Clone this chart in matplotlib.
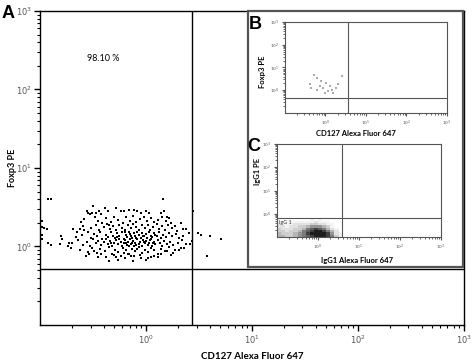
import numpy as np
import matplotlib
matplotlib.use("Agg")
import matplotlib.pyplot as plt
from matplotlib.patches import Rectangle

plt.rcParams['font.family'] = ['Lato', 'DejaVu Sans']

# Panel A: Foxp3 vs CD127 events (log10 decades)
a_cd127_log = [
    -0.92, -0.90, -0.98, -0.98, -0.98, -0.98, -0.96, -0.93, -0.92, -0.90,
    -0.80, -0.79, -0.81, -0.74, -0.71, -0.73, -0.69, -0.65, -0.62, -0.61,
    -0.59, -0.58, -0.56, -0.55, -0.53, -0.50, -0.51, -0.47, -0.44, -0.42,
    -0.39, -0.36, -0.28, -0.24, -0.21, -0.16, -0.11, -0.08, -0.05, 0.00,
    0.03, 0.16, 0.14, 0.17, 0.20, 0.24, 0.27, 0.33, 0.35, 0.38,
    0.41, 0.44, 0.49, 0.52, 0.60, 0.71, 0.58, 0.43, 0.42,
    -0.57, -0.54, -0.49, -0.42, -0.35, -0.28, -0.24, -0.17, -0.11, -0.05,
    0.00, 0.02, 0.08, 0.14, 0.20, 0.27, 0.33,
    -0.45, -0.38, -0.33, -0.30, -0.26, -0.22, -0.19, -0.15, -0.12, -0.09,
    -0.06, -0.02, 0.01, 0.05, 0.08, 0.11, 0.15, 0.19, -0.48, -0.41, 0.22,
    -0.52, -0.47, -0.44, -0.40, -0.37, -0.34, -0.31, -0.28, -0.25, -0.23,
    -0.20, -0.17, -0.14, -0.12, -0.09, -0.07, -0.04, -0.01, 0.02, 0.04,
    0.07, 0.10, 0.12, 0.15, 0.18, 0.21, 0.25, 0.29, -0.58, -0.35,
    -0.66, -0.60, -0.55, -0.52, -0.49, -0.46, -0.43, -0.41, -0.38, -0.36,
    -0.33, -0.31, -0.29, -0.27, -0.25, -0.23, -0.21, -0.19, -0.18, -0.16,
    -0.14, -0.13, -0.11, -0.10, -0.08, -0.07, -0.05, -0.04, -0.02, 0.00,
    0.01, 0.03, 0.05, 0.06, 0.08, 0.10, 0.12, 0.14, 0.16, 0.19,
    0.22, 0.25, 0.28, 0.31, 0.35, -0.27, -0.15, -0.03, 0.09, -0.20, -0.09,
    -0.70, -0.64, -0.59, -0.56, -0.53, -0.50, -0.47, -0.45, -0.42, -0.40,
    -0.38, -0.36, -0.34, -0.32, -0.30, -0.28, -0.26, -0.24, -0.23, -0.21,
    -0.20, -0.18, -0.17, -0.15, -0.14, -0.12, -0.11, -0.10, -0.08, -0.07,
    -0.06, -0.04, -0.03, -0.01, 0.00, 0.02, 0.03, 0.05, 0.06, 0.08,
    0.09, 0.11, 0.13, 0.15, 0.17, 0.20, 0.23, 0.26, 0.30, 0.34,
    0.38, -0.25, -0.13, -0.02, 0.07, -0.19, -0.09, 0.04, -0.33, -0.16,
    -0.62, -0.55, -0.51, -0.46, -0.43, -0.39, -0.35, -0.32, -0.29, -0.26,
    -0.22, -0.19, -0.16, -0.13, -0.10, -0.07, -0.04, -0.01, 0.02, 0.05,
    0.08, 0.11, 0.14, 0.18, 0.22, 0.26, 0.31, 0.36, -0.21, -0.08,
    -0.45, -0.30, -0.20, -0.14, -0.06, 0.05, 0.11, 0.24, -0.38, -0.12, -0.26,
]
a_foxp3_log = [
    0.60, 0.60, 0.32, 0.25, 0.15, 0.10, 0.24, 0.22, 0.05, 0.02,
    0.13, 0.09, 0.03, 0.01, -0.02, 0.05, 0.22, 0.18, 0.22, 0.31,
    0.26, 0.35, 0.45, 0.43, 0.41, 0.51, 0.43, 0.43, 0.45, 0.41,
    0.49, 0.45, 0.49, 0.45, 0.45, 0.47, 0.47, 0.45, 0.43, 0.45,
    0.43, 0.60, 0.43, 0.45, 0.37, 0.30, 0.26, 0.30, 0.22, 0.22,
    0.17, 0.45, 0.17, 0.15, 0.13, 0.09, -0.12, 0.07, 0.03,
    -0.12, -0.10, -0.06, -0.10, -0.19, -0.14, -0.12, -0.10, -0.12, -0.15,
    -0.17, -0.15, -0.12, -0.10, -0.06, -0.04, -0.02,
    0.33, 0.36, 0.31, 0.38, 0.34, 0.30, 0.37, 0.33, 0.39, 0.31,
    0.35, 0.37, 0.32, 0.36, 0.31, 0.34, 0.38, 0.33, 0.37, 0.30, 0.36,
    0.24, 0.27, 0.21, 0.25, 0.29, 0.22, 0.26, 0.21, 0.28, 0.24,
    0.21, 0.27, 0.23, 0.29, 0.25, 0.21, 0.27, 0.23, 0.28, 0.21,
    0.25, 0.29, 0.22, 0.26, 0.21, 0.27, 0.23, 0.20, 0.21, 0.28,
    0.12, 0.15, 0.18, 0.11, 0.16, 0.13, 0.19, 0.10, 0.15, 0.12,
    0.18, 0.14, 0.11, 0.17, 0.13, 0.19, 0.10, 0.15, 0.12, 0.18,
    0.14, 0.11, 0.17, 0.13, 0.19, 0.15, 0.11, 0.17, 0.13, 0.16,
    0.11, 0.19, 0.14, 0.12, 0.17, 0.13, 0.18, 0.11, 0.15, 0.12,
    0.17, 0.13, 0.16, 0.11, 0.14, 0.12, 0.16, 0.14, 0.15, 0.18, 0.11,
    0.04, 0.08, 0.02, 0.06, 0.01, 0.09, 0.04, 0.07, 0.02, 0.06,
    0.09, 0.03, 0.07, 0.01, 0.05, 0.08, 0.03, 0.06, 0.00, 0.04,
    0.08, 0.02, 0.06, 0.09, 0.03, 0.07, 0.01, 0.05, 0.09, 0.03,
    0.06, 0.01, 0.08, 0.04, 0.07, 0.02, 0.05, 0.09, 0.01, 0.06,
    0.03, 0.08, 0.04, 0.01, 0.07, 0.03, 0.06, 0.02, 0.05, 0.08,
    0.03, 0.09, 0.05, 0.06, 0.04, 0.05, 0.02, 0.08, 0.04, 0.00,
    -0.04, -0.07, -0.02, -0.08, -0.03, -0.06, -0.01, -0.09, -0.04, -0.07,
    -0.02, -0.05, -0.09, -0.03, -0.06, -0.01, -0.08, -0.04, -0.07, -0.02,
    -0.05, -0.09, -0.03, -0.06, -0.01, -0.08, -0.04, -0.02, -0.08, -0.03,
    -0.13, -0.11, -0.15, -0.12, -0.11, -0.14, -0.13, -0.11, -0.14, -0.19, -0.17,
]
a_gate_cd127 = 2.7
a_gate_foxp3 = 0.52
a_percent = "98.10 %"

# Panel B: few events
b_cd127_log = [-0.28, 0.40, -0.10, 0.02, -0.35, -0.20, -0.06, 0.05, 0.15, 0.25,
               0.11, 0.19, -0.02, -0.14, 0.32, -0.39, -0.22]
b_foxp3_log = [0.68, 0.62, 0.41, 0.33, 0.08, -0.01, 0.08, -0.05, 0.03, 0.08,
               0.18, -0.12, -0.12, 0.18, 0.26, 0.29, 0.56]
b_gate_cd127 = 3.5
b_gate_foxp3 = 0.48

# Panel C: IgG1 isotype, event density per 0.1-decade cell
c_x_edges_log = np.arange(-1.0, 0.61, 0.1)
c_y_edges_log = np.arange(-1.0, -0.19, 0.1)
c_density = [
    [4, 4, 3, 3, 4, 5, 6, 7, 8, 9, 9, 9, 8, 6, 3, 1],
    [4, 3, 3, 3, 4, 5, 6, 8, 9, 9, 9, 9, 8, 5, 2, 1],
    [3, 3, 2, 3, 3, 4, 6, 7, 8, 9, 9, 8, 6, 4, 2, 0],
    [3, 2, 2, 2, 3, 3, 4, 6, 7, 8, 7, 6, 4, 2, 1, 0],
    [2, 2, 1, 2, 2, 3, 3, 4, 5, 5, 5, 4, 3, 1, 0, 0],
    [2, 1, 1, 1, 2, 2, 2, 2, 3, 3, 2, 2, 1, 1, 0, 0],
    [1, 1, 1, 1, 1, 1, 1, 1, 1, 2, 1, 1, 1, 0, 0, 0],
    [0, 0, 0, 0, 0, 0, 0, 0, 1, 0, 1, 0, 0, 0, 0, 0],
]
c_gate_igg1_x = 3.9
c_gate_igg1_y = 0.67

decade_ticks = [1, 10, 100, 1000]
decade_labels = [r'$10^{0}$', r'$10^{1}$', r'$10^{2}$', r'$10^{3}$']
lim = (0.1, 1000)


def setup_log_axes(ax, tick_size, spine_color, spine_lw, tick_len):
    ax.set_xscale('log')
    ax.set_yscale('log')
    ax.set_xlim(lim)
    ax.set_ylim(lim)
    ax.set_xticks(decade_ticks)
    ax.set_xticklabels(decade_labels)
    ax.set_yticks(decade_ticks)
    ax.set_yticklabels(decade_labels)
    ax.tick_params(which='major', direction='out', length=tick_len, width=spine_lw,
                   labelsize=tick_size, labelcolor='#555555', color=spine_color,
                   top=False, right=False, pad=2)
    ax.tick_params(which='minor', direction='out', length=tick_len * 0.6,
                   width=spine_lw * 0.8, color=spine_color, top=False, right=False)
    for s in ax.spines.values():
        s.set_color(spine_color)
        s.set_linewidth(spine_lw)


fig = plt.figure(figsize=(4.72, 3.63), dpi=100)

# Panel A
ax = fig.add_axes([0.0847, 0.1047, 0.898, 0.865])
setup_log_axes(ax, 6, 'black', 1.0, 4)
ax.scatter(10 ** np.array(a_cd127_log), 10 ** np.array(a_foxp3_log),
           s=1.4, marker='s', color='black', linewidths=0)
ax.axvline(a_gate_cd127, color='black', lw=1.0)
ax.axhline(a_gate_foxp3, color='black', lw=1.0)
ax.text(0.149, 0.85, a_percent, transform=ax.transAxes, fontsize=6.5,
        ha='center', va='center')
ax.set_xlabel('CD127 Alexa Fluor 647', fontsize=7, fontweight='bold')
ax.xaxis.set_label_coords(0.5, -0.085)
ax.set_ylabel('Foxp3 PE', fontsize=6.5, fontweight='bold')
ax.yaxis.set_label_coords(-0.055, 0.5)
fig.text(0.004, 0.985, 'A', fontsize=13, fontweight='bold', va='top',
         family='Liberation Sans')

# inset frame
frame = Rectangle((0.525, 0.2645), 0.4555, 0.705, transform=fig.transFigure,
                  facecolor='white', edgecolor='#555555', lw=1.6, zorder=1)
fig.add_artist(frame)

# Panel B
axb = fig.add_axes([0.6038, 0.6887, 0.3432, 0.2507], zorder=2)
setup_log_axes(axb, 3.2, '#555555', 0.8, 2)
axb.scatter(10 ** np.array(b_cd127_log), 10 ** np.array(b_foxp3_log),
            s=0.7, marker='s', color='#aaaaaa', linewidths=0)
axb.axvline(b_gate_cd127, color='#555555', lw=0.8)
axb.axhline(b_gate_foxp3, color='#555555', lw=0.8)
axb.set_xlabel('CD127 Alexa Fluor 647', fontsize=5.5, fontweight='bold')
axb.xaxis.set_label_coords(0.44, -0.19)
axb.set_ylabel('Foxp3 PE', fontsize=5.5, fontweight='bold')
axb.yaxis.set_label_coords(-0.12, 0.45)
fig.text(0.528, 0.955, 'B', fontsize=13, fontweight='bold', va='top',
         family='Liberation Sans')

# Panel C
axc = fig.add_axes([0.5869, 0.3471, 0.3475, 0.2562], zorder=2)
setup_log_axes(axc, 3.2, '#555555', 0.8, 2)
axc.pcolormesh(10 ** c_x_edges_log, 10 ** c_y_edges_log, np.array(c_density),
               cmap='Greys', vmin=0, vmax=10, shading='flat')
axc.axvline(c_gate_igg1_x, color='#555555', lw=0.8)
axc.axhline(c_gate_igg1_y, color='#555555', lw=0.8)
axc.text(0.012, 0.16, 'IgG 1', transform=axc.transAxes, fontsize=3.8,
         color='#333333', va='center')
axc.set_xlabel('IgG1 Alexa Fluor 647', fontsize=5.5, fontweight='bold')
axc.xaxis.set_label_coords(0.49, -0.215)
axc.set_ylabel('IgG1 PE', fontsize=5.5, fontweight='bold')
axc.yaxis.set_label_coords(-0.10, 0.70)
fig.text(0.524, 0.62, 'C', fontsize=13, fontweight='bold', va='top',
         family='Liberation Sans')

fig.savefig('out.png', dpi=100)
